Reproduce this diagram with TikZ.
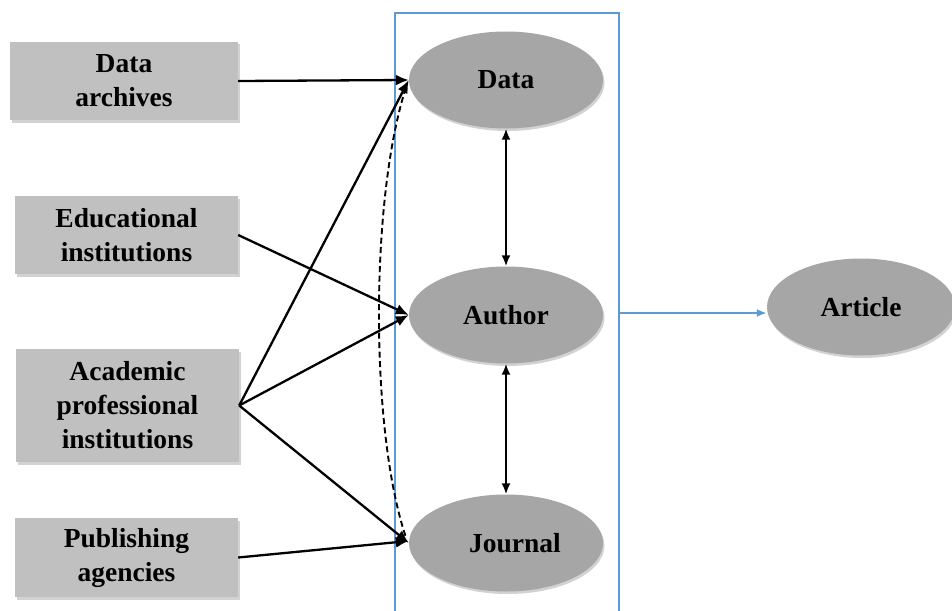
\documentclass[tikz,border=0pt]{standalone}
\usepackage{fontspec}
\setmainfont{Liberation Serif}
\usetikzlibrary{arrows.meta,shapes.geometric,shadows}
\definecolor{boxgray}{HTML}{C0C0C0}
\definecolor{ellgray}{HTML}{A6A6A6}
\definecolor{frameblue}{HTML}{5B9BD5}
\begin{document}
\begin{tikzpicture}[x=1pt,y=-1pt,
  srcbox/.style={fill=boxgray, minimum width=223pt, align=center,
    font=\fontsize{27.5}{34}\selectfont\bfseries, inner sep=0pt,
    drop shadow={opacity=0.35, shadow xshift=1.5pt, shadow yshift=-2.5pt}},
  ellnode/.style={ellipse, fill=ellgray, minimum width=194pt, minimum height=97pt,
    font=\fontsize{27.5}{34}\selectfont\bfseries, inner sep=0pt,
    drop shadow={opacity=0.35, shadow xshift=1.5pt, shadow yshift=-2.5pt}},
  conn/.style={line width=2.3pt, -{Latex[length=13pt,width=11pt]}},
  dconn/.style={line width=2pt, {Latex[length=11pt,width=9pt]}-{Latex[length=11pt,width=9pt]}},
  dashconn/.style={line width=1.9pt, dash pattern=on 6pt off 3.5pt}
]
\useasboundingbox (0,0) rectangle (952,610);
\fill[white] (0,0) rectangle (952,610);

% frame
\node[draw=frameblue, line width=2.4pt, minimum width=224pt, minimum height=640pt, inner sep=0pt, anchor=north]
  (frame) at (507,12) {};

% source boxes
\node[srcbox, minimum width=228pt, minimum height=78pt] (arch) at (124,81) {Data\\archives};
\node[srcbox, minimum height=78pt] (edu) at (126.5,235) {Educational\\institutions};
\node[srcbox, minimum height=113pt] (acad) at (127.5,405.5) {Academic\\professional\\institutions};
\node[srcbox, minimum height=79pt] (pub) at (126.5,557.5) {Publishing\\agencies};

% ellipses
\node[ellnode] (dat) at (506,80) {Data};
\node[ellnode] (aut) at (506,315) {Author};
\node[ellnode] (jou) at (506,543) {\hspace{18pt}Journal};
\node[ellnode, minimum width=188pt] (art) at (861,307) {Article};

% connectors
\draw[conn] (arch.east) -- (dat.west);
\draw[conn] (edu.east) -- (aut.west);
\draw[conn] (acad.east) -- (dat.west);
\draw[conn] (acad.east) -- (aut.west);
\draw[conn] (acad.east) -- (jou.west);
\draw[conn] (pub.east) -- ([yshift=2pt]jou.west);
\draw[dashconn] ([xshift=-3pt,yshift=-8pt]dat.west) .. controls (370,200) and (370,430) .. ([xshift=-3pt,yshift=6pt]jou.west);

\draw[dconn] (dat.south) -- (aut.north);
\draw[dconn] (aut.south) -- (jou.north);

\coordinate (bluestart) at (frame.east |- 0,313);
\draw[frameblue, line width=2.6pt, -{Latex[length=10pt,width=8pt]}] (bluestart) -- (bluestart -| art.west);
\end{tikzpicture}
\end{document}
